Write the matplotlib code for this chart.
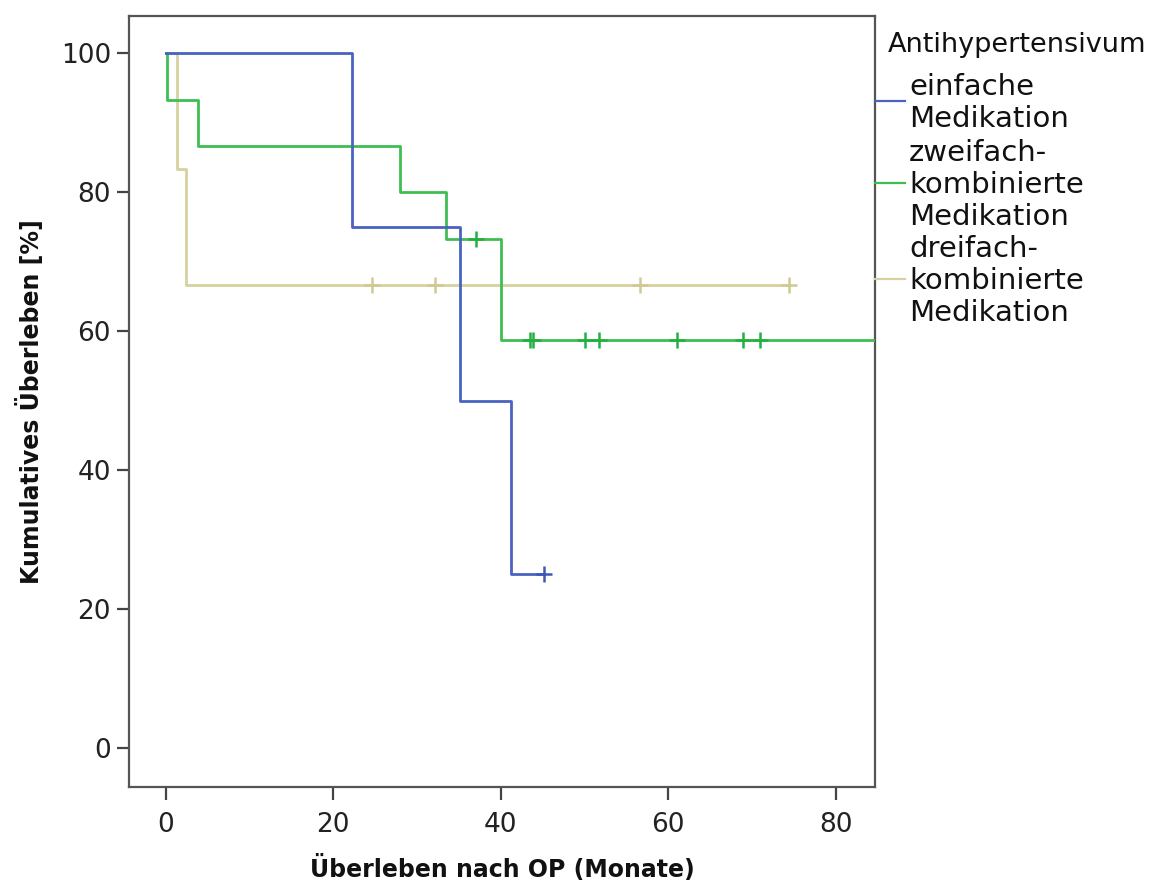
import matplotlib
matplotlib.use("Agg")
import matplotlib.pyplot as plt
from matplotlib.lines import Line2D
import numpy as np

plt.rcParams['font.family'] = ['DejaVu Sans']

# Kaplan-Meier step data (time in months, cumulative survival in %)
einfach_t = [0.0, 22.2, 35.1, 41.2]
einfach_s = [100.0, 75.0, 50.0, 25.0]
einfach_end = 45.2
einfach_cens_t = [45.2]

zweifach_t = [0.0, 0.1, 3.8, 28.0, 33.5, 40.0]
zweifach_s = [100.0, 93.33, 86.67, 80.0, 73.33, 58.67]
zweifach_end = 88.0
zweifach_cens_t = [37.0, 43.5, 43.8, 50.1, 51.7, 61.0, 68.9, 71.0]

dreifach_t = [0.0, 1.3, 2.4]
dreifach_s = [100.0, 83.33, 66.67]
dreifach_end = 74.4
dreifach_cens_t = [24.6, 32.1, 56.6, 74.4]

legend_title = "Antihypertensivum"
labels = ["einfache\nMedikation",
          "zweifach-\nkombinierte\nMedikation",
          "dreifach-\nkombinierte\nMedikation"]
colors = ["#4A62C0", "#3EBE52", "#D6D19E"]
cens_colors = ["#3E56B8", "#22B040", "#CFC992"]

x_ticks = [0, 20, 40, 60, 80]
y_ticks = [0, 20, 40, 60, 80, 100]

W, H = 1154, 882


def step_at(times, surv, t):
    idx = np.searchsorted(times, t, side="right") - 1
    return surv[idx]


fig = plt.figure(figsize=(W / 100, H / 100), dpi=100)
ax = fig.add_axes([129 / W, 1 - 787 / H, (875 - 129) / W, (787 - 15.7) / H])

series = [
    (einfach_t, einfach_s, einfach_end, einfach_cens_t),
    (zweifach_t, zweifach_s, zweifach_end, zweifach_cens_t),
    (dreifach_t, dreifach_s, dreifach_end, dreifach_cens_t),
]
# beige drawn first, blue on top
for i in [2, 1, 0]:
    t, s, end, ct = series[i]
    xs = list(t) + [end]
    ys = list(s) + [s[-1]]
    ax.step(xs, ys, where="post", color=colors[i], lw=2.0, zorder=2 + (2 - i))
    cy = [step_at(np.array(t), np.array(s), c) for c in ct]
    ax.plot(ct, cy, linestyle="none", marker="+", markersize=11,
            markeredgewidth=1.8, color=cens_colors[i], zorder=2 + (2 - i))

ax.set_xlim(-4.4, 84.7)
ax.set_ylim(-5.6, 105.4)
ax.set_xticks(x_ticks)
ax.set_yticks(y_ticks)
ax.tick_params(axis="both", direction="out", length=9, width=1.6,
               color="#444444", labelsize=19, labelcolor="#222222")
ax.tick_params(axis="x", pad=9)
ax.tick_params(axis="y", pad=4)
for sp in ax.spines.values():
    sp.set_color("#555555")
    sp.set_linewidth(1.6)

ax.set_xlabel("Überleben nach OP (Monate)", fontsize=17, fontweight="bold",
              labelpad=12, color="#111111")
ax.set_ylabel("Kumulatives Überleben [%]", fontsize=17, fontweight="bold",
              labelpad=12, color="#111111")

# legend placed to the right of the plot area
fig.text(888 / W, 1 - 45 / H, legend_title, ha="left", va="center",
         fontsize=19.5, color="#111111")
handle_y = [101, 183, 279]
for i in range(3):
    y = 1 - handle_y[i] / H
    fig.add_artist(Line2D([875 / W, 905 / W], [y, y], color=colors[i],
                          lw=1.6, transform=fig.transFigure))
    fig.text(909 / W, 1 - (handle_y[i] + 2) / H, labels[i], ha="left",
             va="center", fontsize=21, linespacing=1.17, color="#111111")

fig.savefig("out.png", dpi=100, facecolor="white")
